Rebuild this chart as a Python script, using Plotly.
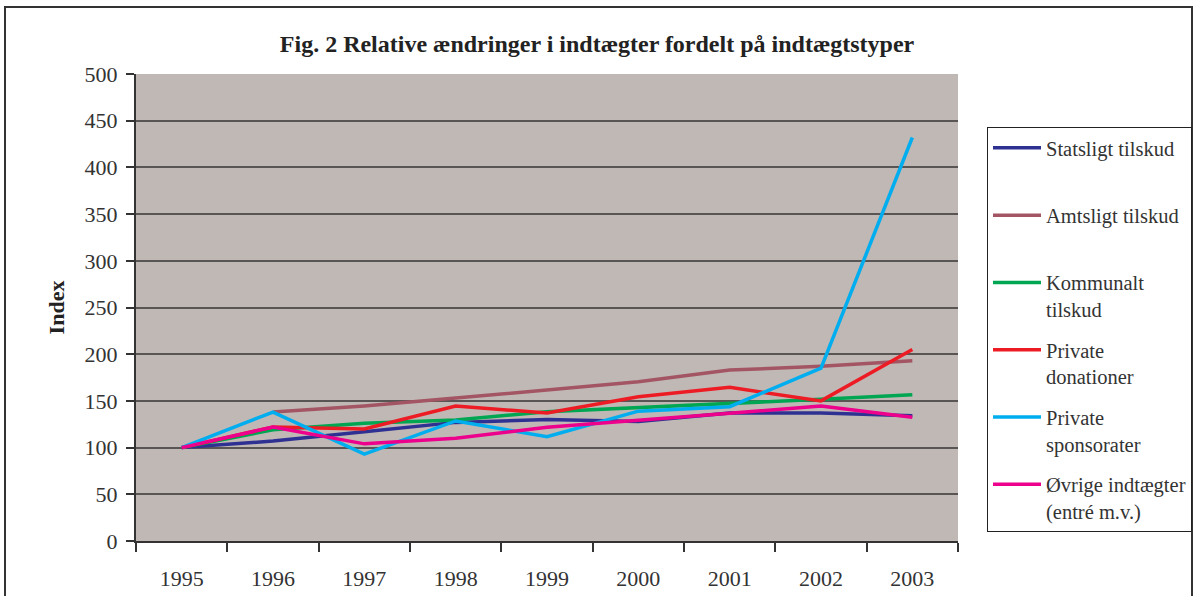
import plotly.graph_objects as go

years = ["1995", "1996", "1997", "1998", "1999", "2000", "2001", "2002", "2003"]

statsligt = [100, 107, 117, 127, 130, 128, 137, 137, 134]
amtsligt = [None, 138, 144.5, 153, 162, 170.5, 183, 187, 193]
kommunalt = [100, 119, 126, 129.5, 138.5, 142.7, 146.7, 151.7, 156.6]
private_don = [100, 122, 120, 144.5, 137, 154.5, 164.5, 150, 205]
private_spons = [100, 138, 93, 128.5, 111.7, 139, 143.8, 185, 432]
ovrige = [100, 122, 104, 110, 121.7, 128.8, 136.7, 144.5, 132.4]

names = [
    "Statsligt tilskud<br> ",
    "Amtsligt tilskud<br> ",
    "Kommunalt<br>tilskud",
    "Private<br>donationer",
    "Private<br>sponsorater",
    "Øvrige indtægter<br>(entré m.v.)",
]
series = [statsligt, amtsligt, kommunalt, private_don, private_spons, ovrige]
colors = ["#2E3192", "#A35564", "#00A651", "#ED1C24", "#00AEEF", "#EC008C"]

FONT = "Liberation Serif"

fig = go.Figure()
for i, (nm, vals, col) in enumerate(zip(names, series, colors)):
    fig.add_trace(go.Scatter(
        x=years, y=vals, name=nm, mode="lines",
        line=dict(color=col, width=3.5),
        legendgroup=f"g{i}",
        connectgaps=False,
    ))

fig.update_layout(
    width=1194, height=596,
    margin=dict(l=136, r=236, t=74, b=55, autoexpand=False),
    paper_bgcolor="white",
    plot_bgcolor="#C0B8B5",
    font=dict(family=FONT, size=22, color="#333333"),
    title=dict(
        text="<b>Fig. 2 Relative ændringer i indtægter fordelt på indtægtstyper</b>",
        x=0.5, xref="container", xanchor="center",
        y=1 - 44 / 596, yref="container", yanchor="middle",
        font=dict(family=FONT, size=24, color="#222222"),
    ),
    showlegend=True,
    legend=dict(
        x=(987 - 136) / 822, xanchor="left",
        y=(541 - 127) / 467, yanchor="top",
        bgcolor="white", bordercolor="#222222", borderwidth=1,
        font=dict(family=FONT, size=20.5, color="#333333"),
        valign="top",
        tracegroupgap=11,
        traceorder="grouped",
        itemwidth=48,
    ),
)

fig.update_xaxes(
    type="category", categoryorder="array", categoryarray=years,
    range=[-0.5, 8.5], automargin=False,
    tickson="boundaries", ticks="outside", ticklen=9, tickcolor="#333333", tickwidth=1.5,
    showline=True, linecolor="#333333", linewidth=2,
    showgrid=False, ticklabelstandoff=17,
    tickfont=dict(family=FONT, size=22, color="#333333"),
)
fig.update_yaxes(
    range=[0, 500], dtick=50, tick0=0, automargin=False,
    ticks="outside", ticklen=8, tickcolor="#333333", tickwidth=1.5,
    showline=True, linecolor="#333333", linewidth=2,
    showgrid=True, gridcolor="#5A5555", gridwidth=1.5,
    zeroline=False, ticklabelstandoff=4,
    tickfont=dict(family=FONT, size=22, color="#333333"),
    title=dict(text="<b>Index</b>", standoff=14,
               font=dict(family=FONT, size=22, color="#222222")),
)

# outer chart frame
fig.add_shape(
    type="rect", xref="paper", yref="paper",
    x0=(5 - 136) / 822, x1=(1192 - 136) / 822,
    y0=(541 - 610) / 467, y1=(541 - 7) / 467,
    line=dict(color="#333333", width=2), fillcolor="rgba(0,0,0,0)",
    layer="below",
)

fig.write_html("out.html", config={"displayModeBar": False},
               post_script="document.body.style.margin='0';")
